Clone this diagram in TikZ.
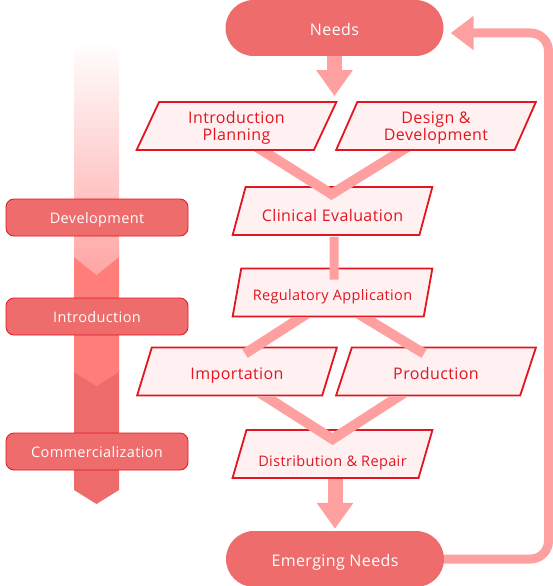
\documentclass[tikz,border=0pt]{standalone}
\usepackage{fontspec}
\setmainfont{Open Sans}[LetterSpace=2.5]
\usepackage{tikz}
\usetikzlibrary{arrows.meta,shapes.geometric,calc}
\definecolor{needred}{RGB}{238,108,108}
\definecolor{linkpink}{RGB}{255,160,160}
\definecolor{boxred}{RGB}{226,22,32}
\definecolor{boxfill}{RGB}{255,240,242}
\definecolor{barpale}{RGB}{255,165,165}
\definecolor{barmid}{RGB}{255,126,122}

\begin{document}
\begin{tikzpicture}[
  x=1pt, y=-1pt,
  every node/.style={align=center},
  pill/.style={fill=needred, text=white, rounded corners=28pt, minimum width=218pt, minimum height=56pt, text height=15pt, text depth=0pt, font=\fontsize{16}{17}\selectfont},
  phase/.style={fill=needred, draw=boxred, line width=0.8pt, text=white, rounded corners=8pt, minimum width=182pt, minimum height=37pt, text height=12pt, text depth=0pt, font=\fontsize{14.5}{17}\selectfont},
  stepbox/.style={trapezium, trapezium left angle=63.4, trapezium right angle=116.6, trapezium stretches=true, draw=boxred, line width=1.8pt, fill=boxfill, text=boxred, minimum width=200pt, minimum height=48pt, inner sep=0pt, text height=16pt, text depth=0pt, font=\fontsize{16}{17}\selectfont},
  small/.style={font=\fontsize{14.5}{17}\selectfont},
  link/.style={linkpink, line width=10pt, line join=miter},
  bigarrow/.style={linkpink, line width=15pt, -{Triangle[length=26pt,width=35pt]}},
  backline/.style={linkpink, line width=9pt, rounded corners=18pt, -{Triangle[length=23pt,width=33pt]}}
]
  \useasboundingbox (0,0) rectangle (553,586);

  % Phase bar
  \fill[needred] (74,370) -- (119,370) -- (119,490) -- (96.5,504) -- (74,490) -- cycle;
  \fill[barmid] (74,250) -- (119,250) -- (119,372) -- (96.5,386) -- (74,372) -- cycle;
  \shade[top color=white, bottom color=barpale] (74,40) -- (119,40) -- (119,257) -- (96.5,275) -- (74,257) -- cycle;

  % Nodes
  \node (needs) [pill] at (334.5,28) {Needs};
  \node (intro) [stepbox, text height=28pt] at (236.5,126) {Introduction\\Planning};
  \node (design) [stepbox, text height=28pt] at (436,126) {Design \&\\Development};
  \node (clin) [stepbox, text height=21pt] at (332.5,211) {Clinical Evaluation};
  \node (reg) [stepbox, small, text height=15pt] at (332.5,292.5) {Regulatory Application};
  \node (imp) [stepbox] at (237,371.5) {Importation};
  \node (prod) [stepbox] at (436,371.5) {Production};
  \node (dist) [stepbox, small, text height=24pt] at (332.5,454) {Distribution \& Repair};
  \node (emerg) [pill] at (335,559) {Emerging Needs};

  \node (dev) [phase] at (97,217.5) {Development};
  \node (introph) [phase] at (97,316.5) {Introduction};
  \node (comm) [phase] at (97,451.5) {Commercialization};

  \coordinate (loopne) at (548.5,33);

  % Paths
  \draw [bigarrow, shorten >=5pt] (needs.south) -- (needs.south |- intro.north);
  \begin{scope}
    \clip ($(intro.south)+(-200,1)$) rectangle ($(intro.south)+(400,60)$);
    \draw [link] ($(intro.south)+(17,-6)$) -- ($(clin.north)+(-1,8)$) -- ($(design.south)+(-25,-6)$);
  \end{scope}
  \draw [link, line width=9pt] ($(clin.south)+(1.5,1)$) -- ($(reg.north)+(1.5,12)$);
  \begin{scope}
    \clip ($(reg.south)+(-200,1)$) rectangle ($(reg.south)+(200,60)$);
    \draw [link] ($(reg.south)+(-22,-6)$) -- ($(imp.north)+(8,7)$);
    \draw [link] ($(reg.south)+(22,-6)$) -- ($(prod.north)+(-12,7)$);
  \end{scope}
  \begin{scope}
    \clip ($(imp.south)+(-100,1)$) rectangle ($(imp.south)+(300,60)$);
    \draw [link] ($(imp.south)+(19,-6)$) -- ($(dist.north)+(0,10)$) -- ($(prod.south)+(-28,-6)$);
  \end{scope}
  \draw [bigarrow, shorten >=2pt] (emerg.north |- dist.south) -- (emerg.north);
  \draw [backline, shorten >=7pt] (emerg.east) -| (loopne) -- (needs.east |- loopne);
\end{tikzpicture}
\end{document}
